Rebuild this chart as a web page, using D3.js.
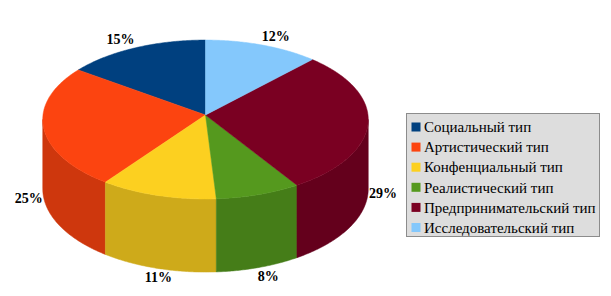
<!DOCTYPE html>
<html>
<head>
<meta charset="utf-8">
<script src="https://cdn.jsdelivr.net/npm/d3@7"></script>
<style>
    html, body { margin: 0; padding: 0; background: #fff; }
    svg { display: block; }
</style>
</head>
<body>
<div id="chart"></div>
<script>
    // --- DATA ---
    const categories = [
        "Социальный тип",
        "Артистический тип",
        "Конфенциальный тип",
        "Реалистический тип",
        "Предпринимательский тип",
        "Исследовательский тип"
    ];
    const values = [15, 25, 11, 8, 29, 12];
    const colors = ["#00407F", "#FC4410", "#FCD020", "#55991E", "#7A0022", "#84C8FC"];

    const SERIF = "'Liberation Serif', 'Times New Roman', serif";

    // --- LAYOUT ---
    const W = 611, H = 296;
    const cx = 205.5, cy = 115;   // pie centre on screen
    const rx = 162.5, ry = 79.2;  // radii of the top face
    const k = 0.0566;             // slight perspective
    const depth = 69;             // thickness of the pie

    const svg = d3.select("#chart").append("svg")
        .attr("width", W).attr("height", H);

    // project a point of the unit disk (u to the right, v toward viewer)
    function proj(u, v, z) {
        const w = 1 - k * v;
        return [cx + rx * u / w, cy + ry * v / w + (z || 0) / w];
    }
    // angle measured from 12 o'clock, counter-clockwise
    const dir = t => [-Math.sin(t), -Math.cos(t)];

    const pie = d3.pie().sort(null).value(d => d).startAngle(0).endAngle(2 * Math.PI);
    const arcs = pie(values);

    // visible front band: between leftmost and rightmost screen points
    let tLeft = 0, tRight = 0, minX = Infinity, maxX = -Infinity;
    for (let i = 0; i <= 3600; i++) {
        const t = i / 3600 * 2 * Math.PI;
        const [u, v] = dir(t);
        const x = proj(u, v)[0];
        if (x < minX) { minX = x; tLeft = t; }
        if (x > maxX) { maxX = x; tRight = t; }
    }

    const line = d3.line();
    const arcPts = (a0, a1, z) => {
        const n = Math.max(2, Math.ceil(Math.abs(a1 - a0) / 0.01));
        return d3.range(n + 1).map(i => {
            const t = a0 + (a1 - a0) * i / n;
            const [u, v] = dir(t);
            return proj(u, v, z);
        });
    };

    // --- SIDE WALLS ---
    arcs.forEach((a, i) => {
        const s = Math.max(a.startAngle, tLeft);
        const e = Math.min(a.endAngle, tRight);
        if (e <= s) return;
        const top = arcPts(s, e, 0);
        const bot = arcPts(s, e, depth).reverse();
        const side = d3.color(colors[i]).darker(0.57);
        svg.append("path")
            .attr("d", line(top.concat(bot)) + "Z")
            .attr("fill", side)
            .attr("stroke", side)
            .attr("stroke-width", 0.5);
    });

    // --- TOP FACES ---
    const c0 = proj(0, 0, 0);
    arcs.forEach((a, i) => {
        const pts = [c0].concat(arcPts(a.startAngle, a.endAngle, 0));
        svg.append("path")
            .attr("d", line(pts) + "Z")
            .attr("fill", colors[i])
            .attr("stroke", colors[i])
            .attr("stroke-width", 0.5);
    });

    // --- PERCENT LABELS ---
    arcs.forEach((a, i) => {
        const m = (a.startAngle + a.endAngle) / 2;
        const [u, v] = dir(m);
        const front = v > 0;
        const [ax, ay] = proj(u, v, front ? depth : 0);
        let lx = ax + u * 15;
        if (!front) lx += Math.sign(u) * 8;
        else if (Math.abs(u) < 0.5) lx += 5;
        const ly = front ? ay + v * 9 : ay - 9;
        svg.append("text")
            .attr("x", lx).attr("y", ly)
            .attr("dy", "0.35em")
            .attr("text-anchor", "middle")
            .attr("font-family", SERIF)
            .attr("font-weight", "bold")
            .attr("font-size", 14)
            .attr("fill", "#000")
            .text(values[i] + "%");
    });

    // --- LEGEND ---
    const lg = { x: 406.5, y: 113.5, w: 193, h: 123, row: 20.1 };
    const legend = svg.append("g");
    legend.append("rect")
        .attr("x", lg.x).attr("y", lg.y)
        .attr("width", lg.w).attr("height", lg.h)
        .attr("fill", "#DDDDDD")
        .attr("stroke", "#8C8C8C")
        .attr("stroke-width", 1);
    const items = legend.selectAll(".item").data(categories).enter().append("g")
        .attr("transform", (d, i) => `translate(${lg.x + 5}, ${lg.y + 13.5 + i * lg.row})`);
    items.append("rect")
        .attr("x", 0).attr("y", -4.5)
        .attr("width", 9).attr("height", 9)
        .attr("fill", (d, i) => colors[i]);
    items.append("text")
        .attr("x", 12.5).attr("y", 0)
        .attr("dy", "0.35em")
        .attr("font-family", SERIF)
        .attr("font-size", 15)
        .attr("fill", "#000")
        .text(d => d);
</script>
</body>
</html>
